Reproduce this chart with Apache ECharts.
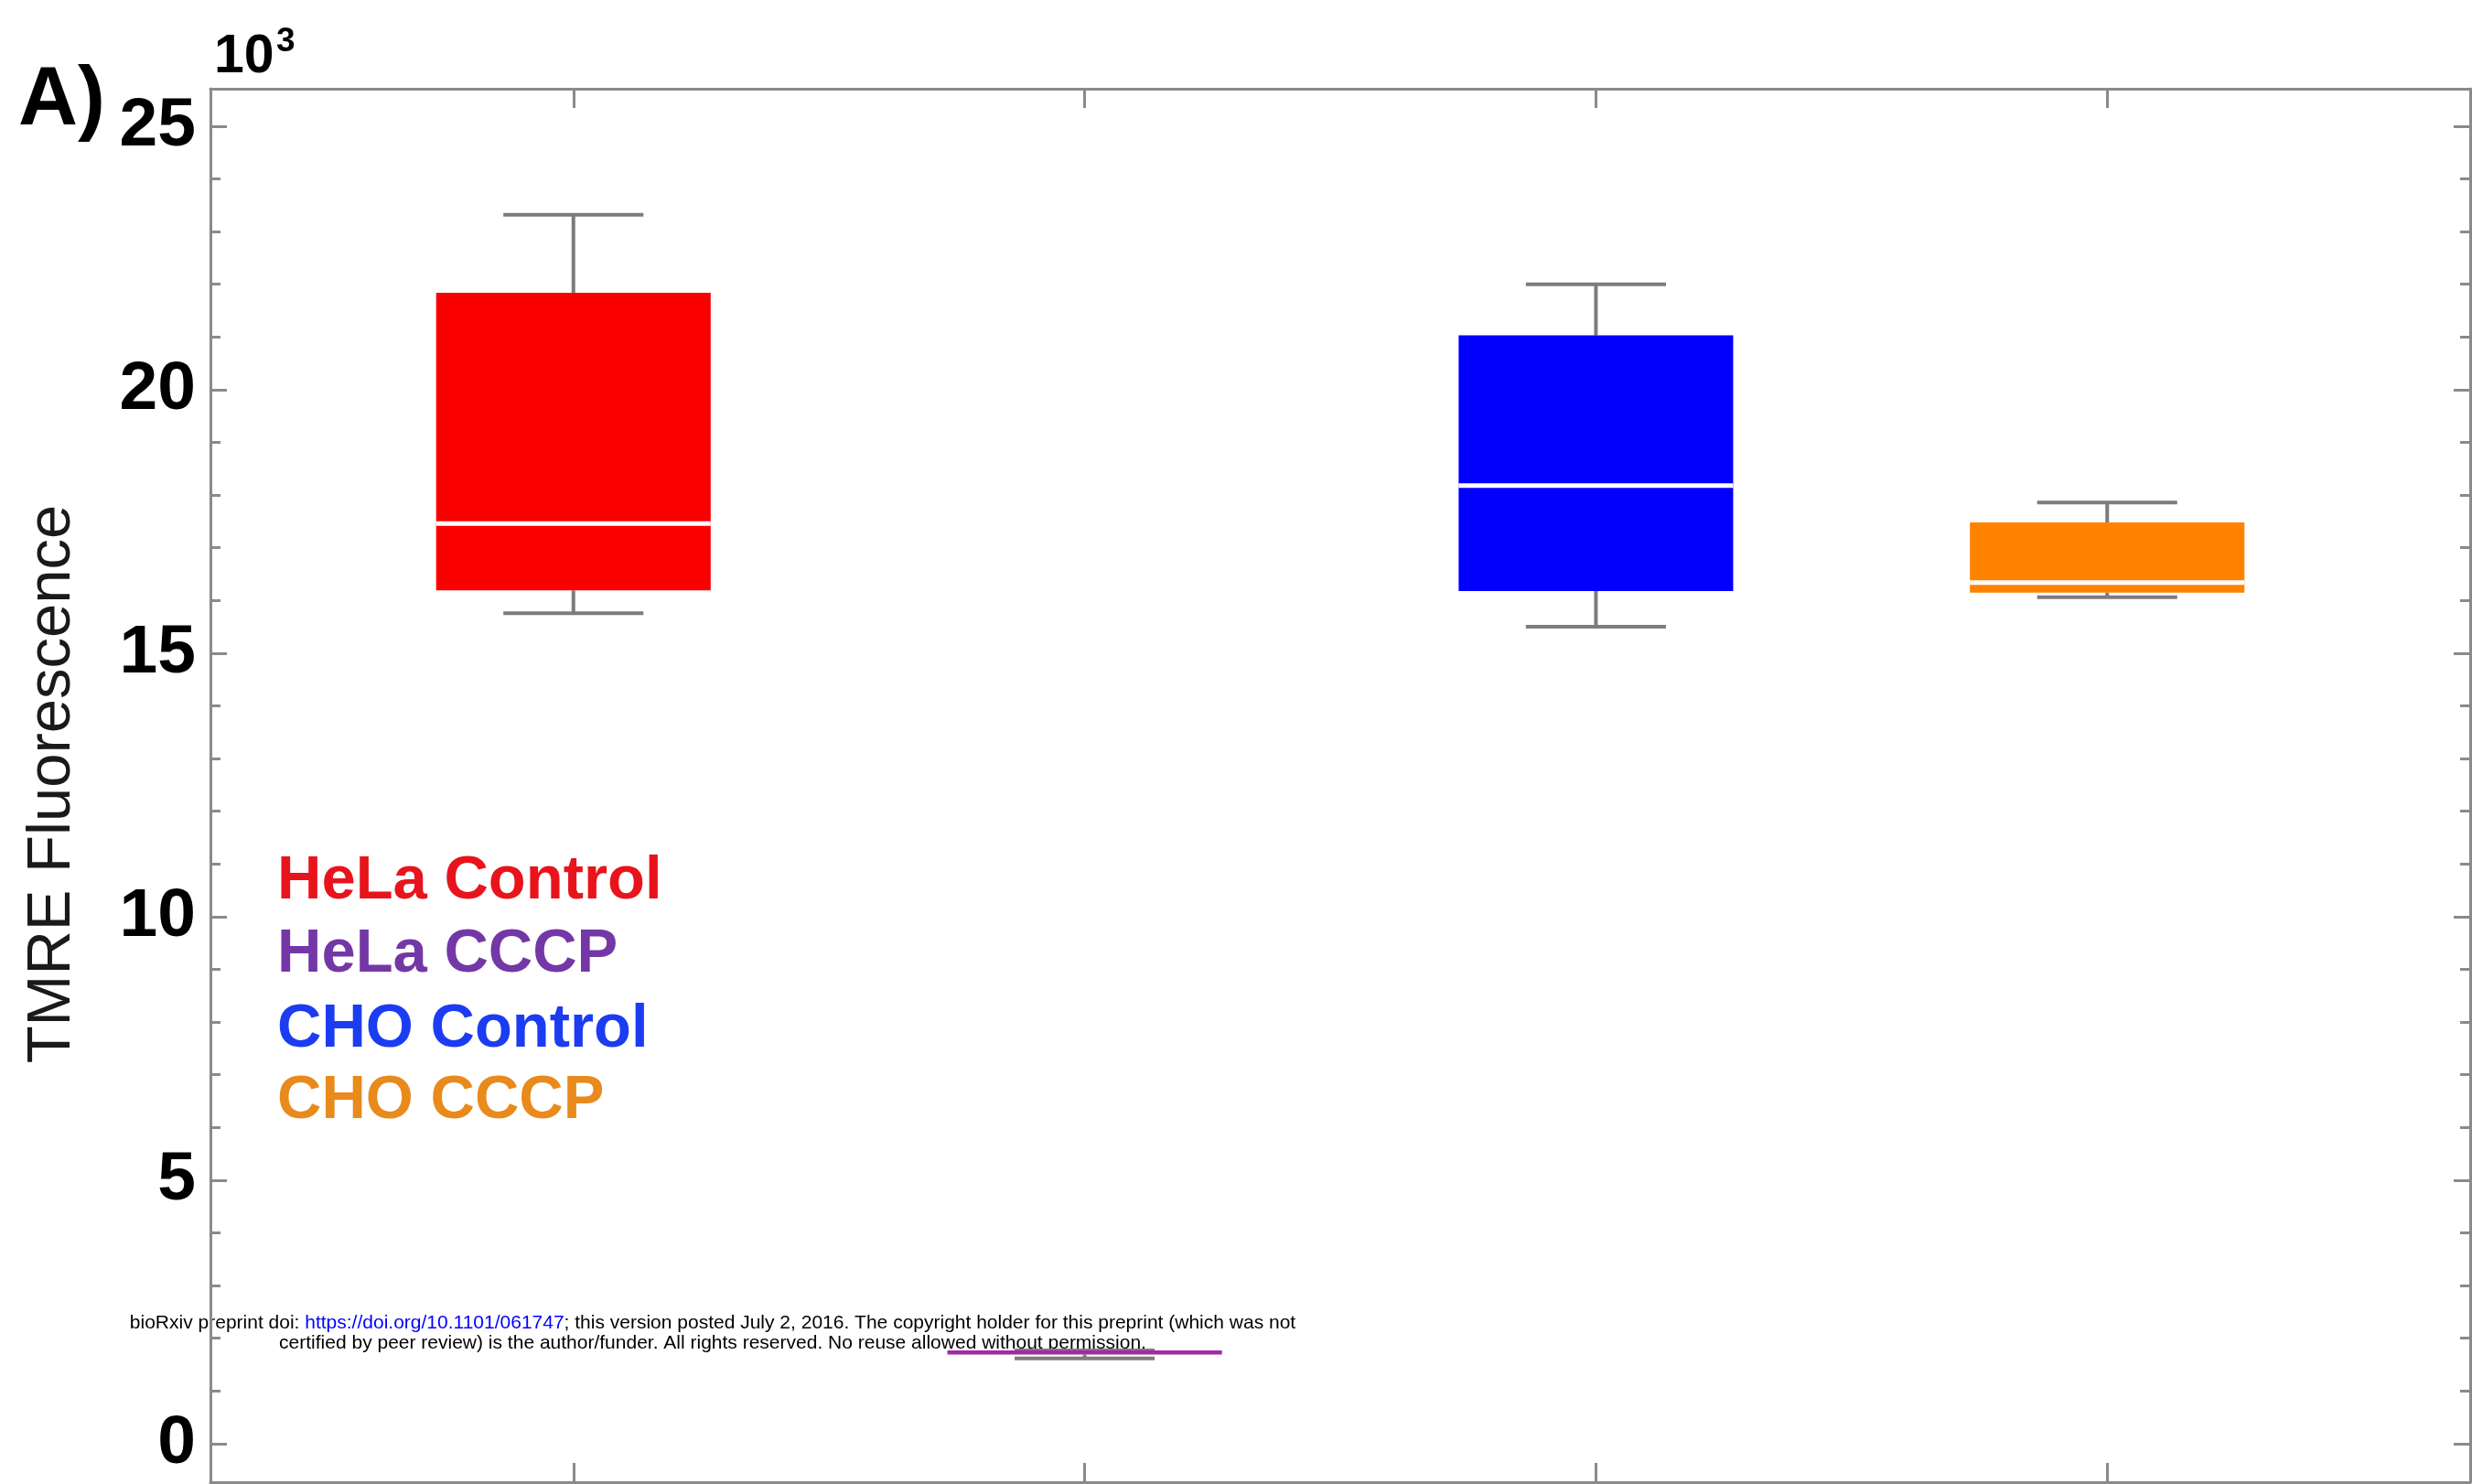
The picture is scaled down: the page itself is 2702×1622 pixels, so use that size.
<!DOCTYPE html>
<html>
<head>
<meta charset="utf-8">
<title>TMRE Fluorescence</title>
<script src="https://cdn.jsdelivr.net/npm/echarts@6/dist/echarts.min.js"></script>
<style>
  html, body { margin: 0; padding: 0; background: #ffffff; }
  #chart { width: 2702px; height: 1622px; }
</style>
</head>
<body>
<div id="chart"></div>
<script>
// Box plot of TMRE fluorescence (values in thousands)
const categories  = ['HeLa Control', 'HeLa CCCP', 'CHO Control', 'CHO CCCP'];
const positions   = [1, 2, 3, 4];
const whiskerLow  = [15.76, 1.62, 15.50, 16.06];
const quartile1   = [16.19, 1.69, 16.18, 16.15];
const median      = [17.46, 1.72, 18.18, 16.34];
const quartile3   = [21.84, 1.77, 21.03, 17.48];
const whiskerHigh = [23.32, 1.77, 22.00, 17.86];
const yTickLabels = [0, 5, 10, 15, 20, 25];
const yMinorTicks = [0,1,2,3,4,5,6,7,8,9,10,11,12,13,14,15,16,17,18,19,20,21,22,23,24,25];

const boxColors    = ['#fb0000', '#a22aa6', '#0000fb', '#ff8200'];
const legendColors = ['#e8141c', '#7437a6', '#1c3cf2', '#e88a1c'];

const FONT = '"Liberation Sans", Arial, Helvetica, sans-serif';
const AXIS_GREY = '#8a8a8a';
const WHISKER_GREY = '#7c7c7c';
const BOX_WIDTH = 0.537;
const CAP_WIDTH = 0.274;

const data = categories.map((c, i) => [
  positions[i], whiskerLow[i], quartile1[i], median[i], quartile3[i], whiskerHigh[i]
]);

function renderBox(params, api) {
  const x = api.value(0);
  const pLo = api.coord([x, api.value(1)]);
  const pQ1 = api.coord([x, api.value(2)]);
  const pMd = api.coord([x, api.value(3)]);
  const pQ3 = api.coord([x, api.value(4)]);
  const pHi = api.coord([x, api.value(5)]);
  const cx = pLo[0];
  const bw = api.size([BOX_WIDTH, 0])[0];
  const cw = api.size([CAP_WIDTH, 0])[0];
  const wStyle = { stroke: WHISKER_GREY, lineWidth: 4 };
  const children = [
    { type: 'line', shape: { x1: cx, y1: pHi[1], x2: cx, y2: pQ3[1] }, style: wStyle },
    { type: 'line', shape: { x1: cx, y1: pQ1[1], x2: cx, y2: pLo[1] }, style: wStyle },
    { type: 'line', shape: { x1: cx - cw / 2, y1: pHi[1], x2: cx + cw / 2, y2: pHi[1] }, style: wStyle },
    { type: 'line', shape: { x1: cx - cw / 2, y1: pLo[1], x2: cx + cw / 2, y2: pLo[1] }, style: wStyle },
    { type: 'rect', shape: { x: cx - bw / 2, y: pQ3[1], width: bw, height: Math.max(pQ1[1] - pQ3[1], 4) },
      style: { fill: boxColors[params.dataIndex] } }
  ];
  if (pQ1[1] - pQ3[1] > 10) {
    children.push({ type: 'line', shape: { x1: cx - bw / 2, y1: pMd[1], x2: cx + bw / 2, y2: pMd[1] },
      style: { stroke: '#ffffff', lineWidth: 5 } });
  }
  return { type: 'group', children };
}

const xCommon = {
  type: 'value', min: 0.29, max: 4.71,
  axisLine: { show: true, onZero: false, lineStyle: { color: AXIS_GREY, width: 3 } },
  axisTick: { show: true, inside: true, length: 21, customValues: positions, lineStyle: { color: AXIS_GREY, width: 3 } },
  axisLabel: { show: false },
  splitLine: { show: false }
};

function yAxisDef(position, major) {
  return {
    type: 'value', min: -0.73, max: 25.71, position,
    axisLine: { show: major, onZero: false, lineStyle: { color: AXIS_GREY, width: 3 } },
    axisTick: { show: true, inside: true, length: major ? 18 : 11,
      customValues: major ? yTickLabels : yMinorTicks,
      lineStyle: { color: AXIS_GREY, width: 3 } },
    axisLabel: (major && position === 'left') ? {
      show: true, customValues: yTickLabels, margin: 16,
      fontFamily: FONT, fontSize: 75, fontWeight: 'bold', color: '#000000'
    } : { show: false },
    splitLine: { show: false }
  };
}

const graphics = [
  { type: 'text', left: 20, top: 66, style: { text: 'A)', font: 'bold 90px ' + FONT, fill: '#000' } },
  { type: 'text', left: 234, top: 33, style: { text: '10', font: 'bold 59px ' + FONT, fill: '#000' } },
  { type: 'text', left: 302, top: 27, style: { text: '3', font: 'bold 37px ' + FONT, fill: '#000' } },
  { type: 'text', x: 58, y: 857, rotation: Math.PI / 2,
    style: { text: 'TMRE Fluorescence', font: '67px ' + FONT, fill: '#1a1a1a', align: 'center', verticalAlign: 'middle' } },
  {
    type: 'text', x: 779, y: 1457,
    style: {
      text: '{k|bioRxiv preprint doi: }{u|https://doi.org/10.1101/061747}{k|; this version posted July 2, 2016. The copyright holder for this preprint (which was not}\n{k|certified by peer review) is the author/funder. All rights reserved. No reuse allowed without permission.}',
      align: 'center', verticalAlign: 'middle',
      rich: {
        k: { fontFamily: FONT, fontSize: 21, fill: '#000000', lineHeight: 22 },
        u: { fontFamily: FONT, fontSize: 21, fill: '#0000ff', lineHeight: 22 }
      }
    }
  }
];
const legendMid = [964, 1044, 1126, 1204];
categories.forEach((name, i) => {
  graphics.push({ type: 'text', x: 303, y: legendMid[i],
    style: { text: name, font: 'bold 67px ' + FONT, fill: legendColors[i], verticalAlign: 'middle' } });
});

const chart = echarts.init(document.getElementById('chart'), null, { renderer: 'canvas' });
chart.setOption({
  animation: false,
  backgroundColor: '#ffffff',
  grid: { left: 230, right: 2, top: 97, bottom: 2, containLabel: false },
  xAxis: [Object.assign({ position: 'bottom' }, xCommon), Object.assign({ position: 'top' }, xCommon)],
  yAxis: [yAxisDef('left', true), yAxisDef('left', false), yAxisDef('right', true), yAxisDef('right', false)],
  series: [{
    type: 'custom',
    name: 'TMRE',
    xAxisIndex: 0, yAxisIndex: 0,
    renderItem: renderBox,
    encode: { x: 0, y: [1, 2, 3, 4, 5] },
    data
  }],
  graphic: graphics
});
</script>
</body>
</html>
